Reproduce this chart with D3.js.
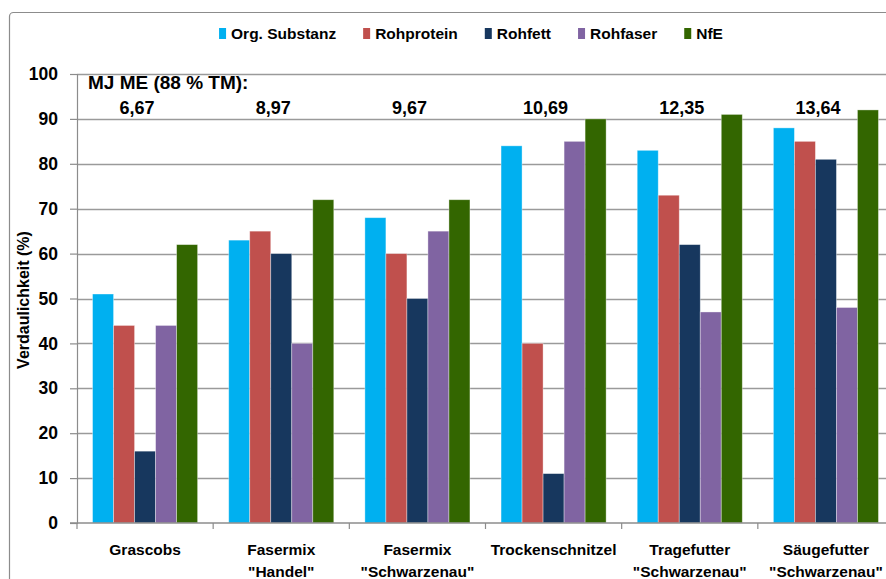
<!DOCTYPE html>
<html>
<head>
<meta charset="utf-8">
<script src="https://cdn.jsdelivr.net/npm/d3@7"></script>
<style>
  body { margin: 0; background: #fff; }
  svg text { font-family: "Liberation Sans", Arial, sans-serif; font-weight: bold; fill: #000; }
</style>
</head>
<body>
<svg id="graph"></svg>
<script>
// categories (line breaks as in the original axis labels)
var categories = ["Grascobs", "Fasermix\n\"Handel\"", "Fasermix\n\"Schwarzenau\"",
                  "Trockenschnitzel", "Tragefutter\n\"Schwarzenau\"", "Säugefutter\n\"Schwarzenau\""];
var seriesNames = ["Org. Substanz", "Rohprotein", "Rohfett", "Rohfaser", "NfE"];
var seriesColors = ["#00B0F0", "#C0504D", "#17375E", "#8064A2", "#336600"];

var orgSubstanz = [51, 63, 68, 84, 83, 88];
var rohprotein  = [44, 65, 60, 40, 73, 85];
var rohfett     = [16, 60, 50, 11, 62, 81];
var rohfaser    = [44, 40, 65, 85, 47, 48];
var nfe         = [62, 72, 72, 90, 91, 92];

var mjMe = ["6,67", "8,97", "9,67", "10,69", "12,35", "13,64"];
var yTicks = [0, 10, 20, 30, 40, 50, 60, 70, 80, 90, 100];

var seriesValues = [orgSubstanz, rohprotein, rohfett, rohfaser, nfe];

var initGraph = function()
{
    var screen = {width: 886, height: 579};
    var margins = {left: 77, top: 74};
    var graph = {width: 817, height: 449};

    var svg = d3.select("#graph")
        .attr("width", screen.width)
        .attr("height", screen.height);

    // outer chart frame
    svg.append("rect")
        .attr("x", 9.5).attr("y", 12.5)
        .attr("width", 900).attr("height", 600)
        .attr("rx", 4)
        .attr("fill", "none")
        .attr("stroke", "#8c8c8c")
        .attr("stroke-width", 1.2);

    var xScale = d3.scaleBand()
        .domain(d3.range(categories.length))
        .range([margins.left, margins.left + graph.width])
        .padding(0);

    var xSub = d3.scaleBand()
        .domain(d3.range(seriesNames.length))
        .range([0, xScale.bandwidth()])
        .paddingInner(0)
        .paddingOuter(0.74);

    var yScale = d3.scaleLinear()
        .domain([0, 100])
        .range([margins.top + graph.height, margins.top]);

    drawGrid(svg, graph, margins, yScale);
    drawBars(svg, xScale, xSub, yScale);
    drawAxes(svg, graph, margins, xScale, yScale);
    drawLabels(svg, xScale);
    drawLegend(svg);
}

var drawGrid = function(svg, graph, margins, yScale)
{
    svg.append("g")
        .selectAll("line")
        .data(yTicks.filter(function(t) { return t > 0; }))
        .enter()
        .append("line")
        .attr("x1", margins.left)
        .attr("x2", margins.left + graph.width)
        .attr("y1", function(t) { return Math.round(yScale(t)) + 0.5; })
        .attr("y2", function(t) { return Math.round(yScale(t)) + 0.5; })
        .attr("stroke", "#9a9a9a")
        .attr("stroke-width", 1.5);
}

var drawBars = function(svg, xScale, xSub, yScale)
{
    var groups = svg.append("g")
        .selectAll("g")
        .data(categories)
        .enter()
        .append("g")
        .attr("transform", function(d, i) { return "translate(" + xScale(i) + ",0)"; });

    groups.selectAll("rect")
        .data(function(d, i)
            {
                return seriesValues.map(function(vals, s) { return {s: s, v: vals[i]}; });
            })
        .enter()
        .append("rect")
        .attr("x", function(d) { return xSub(d.s); })
        .attr("width", xSub.bandwidth())
        .attr("y", function(d) { return yScale(d.v); })
        .attr("height", function(d) { return yScale(0) - yScale(d.v); })
        .attr("fill", function(d) { return seriesColors[d.s]; })
        .attr("stroke", "rgba(255,255,255,0.45)")
        .attr("stroke-width", 0.8);
}

var drawAxes = function(svg, graph, margins, xScale, yScale)
{
    var yAxis = d3.axisLeft(yScale)
        .tickValues(yTicks)
        .tickSize(7)
        .tickPadding(12);

    var ya = svg.append("g")
        .attr("transform", "translate(" + margins.left + ",0)")
        .call(yAxis);
    ya.select(".domain").attr("stroke", "#8c8c8c").attr("stroke-width", 1.2);
    ya.selectAll(".tick line").attr("stroke", "#8c8c8c").attr("stroke-width", 1.2);
    ya.selectAll(".tick text")
        .style("font-size", "17.5px")
        .attr("fill", "#000");

    // category baseline and ticks
    var x0 = yScale(0);
    svg.append("line")
        .attr("x1", margins.left - 7).attr("x2", margins.left + graph.width)
        .attr("y1", x0).attr("y2", x0)
        .attr("stroke", "#8c8c8c").attr("stroke-width", 1.5);

    svg.append("g")
        .selectAll("line")
        .data(d3.range(categories.length + 1))
        .enter()
        .append("line")
        .attr("x1", function(i) { return margins.left + i * xScale.step(); })
        .attr("x2", function(i) { return margins.left + i * xScale.step(); })
        .attr("y1", x0)
        .attr("y2", x0 + 6)
        .attr("stroke", "#8c8c8c").attr("stroke-width", 1.2);

    // category labels
    var cat = svg.append("g")
        .selectAll("text")
        .data(categories)
        .enter()
        .append("text")
        .attr("text-anchor", "middle")
        .style("font-size", "15.5px");
    cat.each(function(d, i)
        {
            var lines = d.split("\n");
            var t = d3.select(this);
            lines.forEach(function(line, k)
                {
                    t.append("tspan")
                        .attr("x", xScale(i) + xScale.bandwidth() / 2)
                        .attr("y", 555 + k * 22)
                        .text(line);
                });
        });

    // y label
    svg.append("text")
        .text("Verdaulichkeit (%)")
        .attr("text-anchor", "middle")
        .style("font-size", "16px")
        .attr("transform", "translate(29,300) rotate(-90)");
}

var drawLabels = function(svg, xScale)
{
    svg.append("text")
        .text("MJ ME (88 % TM):")
        .attr("x", 88)
        .attr("y", 89)
        .style("font-size", "19px");

    svg.append("g")
        .selectAll("text")
        .data(mjMe)
        .enter()
        .append("text")
        .text(function(d) { return d; })
        .attr("text-anchor", "middle")
        .attr("x", function(d, i) { return xScale(i) + xScale.bandwidth() / 2 - 8; })
        .attr("y", 114)
        .style("font-size", "18px");
}

var drawLegend = function(svg)
{
    var legend = svg.append("g");
    var items = legend.selectAll("g")
        .data(seriesNames)
        .enter()
        .append("g");
    items.append("rect")
        .attr("width", 7)
        .attr("height", 11)
        .attr("y", 28)
        .attr("fill", function(d, i) { return seriesColors[i]; });
    items.append("text")
        .text(function(d) { return d; })
        .attr("x", 12)
        .attr("y", 39)
        .style("font-size", "15.5px");

    var x = 0;
    items.each(function()
        {
            var w = d3.select(this).select("text").node().getComputedTextLength();
            d3.select(this).attr("transform", "translate(" + x + ",0)");
            x += 12 + w + 27;
        });
    var total = x - 27;
    legend.attr("transform", "translate(" + (471 - total / 2) + ",0)");
}

initGraph();
</script>
</body>
</html>
